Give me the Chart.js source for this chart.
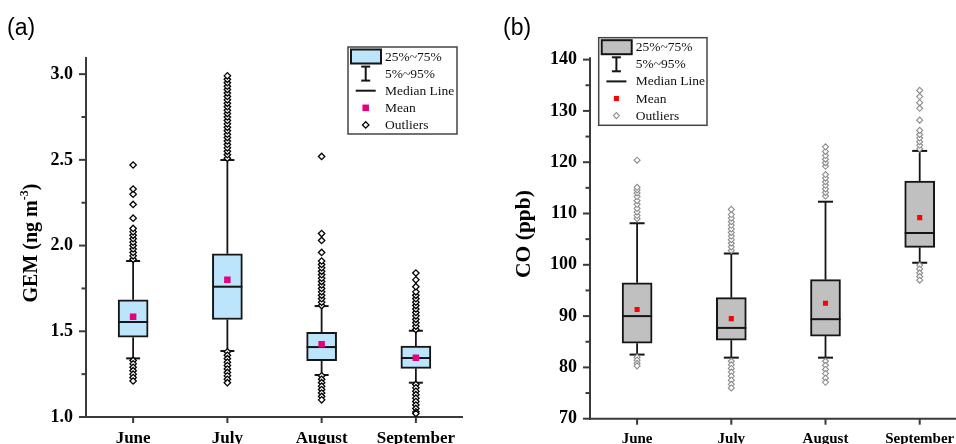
<!DOCTYPE html>
<html>
<head>
<meta charset="utf-8">
<script src="https://cdn.jsdelivr.net/npm/chart.js@4.4.1/dist/chart.umd.min.js"></script>
<style>
html, body { margin: 0; padding: 0; background: #fff; overflow: hidden; width: 956px; height: 444px; }
#gem { position: absolute; left: 0; top: 0; }
#co { position: absolute; left: 478px; top: 0; }
</style>
</head>
<body>
<canvas id="gem" width="478" height="470"></canvas>
<canvas id="co" width="500" height="470"></canvas>
<script>
var months = ['June', 'July', 'August', 'September'];
var legendLabels = ['25%~75%', '5%~95%', 'Median Line', 'Mean', 'Outliers'];

// (a) GEM, ng m-3
var gemP5 = [1.342, 1.385, 1.245, 1.200];
var gemQ1 = [1.465, 1.569, 1.328, 1.284];
var gemMedian = [1.554, 1.760, 1.408, 1.344];
var gemQ3 = [1.684, 1.952, 1.494, 1.414];
var gemP95 = [1.910, 2.499, 1.647, 1.503];
var gemMean = [1.585, 1.801, 1.424, 1.346];
var gemOutliers = [
    [1.92, 1.94, 1.96, 1.98, 2.00, 2.02, 2.04, 2.06, 2.08, 2.10, 2.16, 2.24, 2.30, 2.33, 2.47,
     1.33, 1.31, 1.29, 1.27, 1.25, 1.23, 1.21],
    [2.51, 2.53, 2.55, 2.57, 2.59, 2.61, 2.63, 2.65, 2.67, 2.69, 2.71, 2.73, 2.75, 2.77, 2.79,
     2.81, 2.83, 2.85, 2.87, 2.89, 2.91, 2.93, 2.95, 2.97, 2.99,
     1.38, 1.36, 1.34, 1.32, 1.30, 1.28, 1.26, 1.24, 1.22, 1.20],
    [1.65, 1.67, 1.69, 1.71, 1.73, 1.75, 1.77, 1.79, 1.81, 1.83, 1.85, 1.87, 1.89, 1.91,
     1.96, 2.03, 2.07, 2.52,
     1.24, 1.22, 1.20, 1.18, 1.16, 1.14, 1.12, 1.10],
    [1.51, 1.53, 1.55, 1.57, 1.59, 1.61, 1.63, 1.65, 1.67, 1.69, 1.71, 1.73, 1.76, 1.80, 1.84,
     1.19, 1.17, 1.15, 1.13, 1.11, 1.09, 1.07, 1.05, 1.03, 1.02]
];
var gemTicks = [1.0, 1.5, 2.0, 2.5, 3.0];
var gemMinor = [1.25, 1.75, 2.25, 2.75];

// (b) CO, ppb
var coP5 = [82.5, 81.9, 81.9, 100.4];
var coQ1 = [84.7, 85.3, 86.1, 103.4];
var coMedian = [90.0, 87.7, 89.4, 106.2];
var coQ3 = [96.5, 93.6, 97.1, 116.3];
var coP95 = [108.1, 102.2, 112.3, 122.2];
var coMean = [91.3, 89.5, 92.5, 109.2];
var coOutliers = [
    [109.0, 109.6, 110.3, 111.0, 111.8, 112.5, 113.3, 114.0, 114.6, 115.1, 120.4,
     82.0, 81.4, 80.8, 80.3],
    [102.8, 103.5, 104.2, 104.9, 105.6, 106.3, 107.0, 107.7, 108.4, 109.1, 109.8, 110.8,
     81.2, 80.5, 79.8, 79.1, 78.3, 77.5, 76.7, 76.0],
    [113.4, 114.1, 114.8, 115.5, 116.2, 116.9, 117.6, 119.2, 119.9, 120.6, 121.3, 122.1, 123.0,
     81.2, 80.4, 79.6, 78.8, 77.9, 77.1],
    [122.6, 123.3, 124.0, 124.7, 125.4, 126.2, 128.2, 130.5, 131.6, 132.8, 134.0,
     99.9, 99.2, 98.4, 97.7, 97.0]
];
var coTicks = [70, 80, 90, 100, 110, 120, 130, 140];
var coMinor = [75, 85, 95, 105, 115, 125, 135];

Chart.defaults.font.family = "'Liberation Serif', 'Times New Roman', serif";
Chart.defaults.color = '#000';

var AXIS = '#3a3a3a';
var INK = '#151515';

function seg(ctx, x1, y1, x2, y2) {
    ctx.beginPath();
    ctx.moveTo(x1, y1);
    ctx.lineTo(x2, y2);
    ctx.stroke();
}

function boxPlugin(c) {
    return {
        id: 'boxExtras',
        beforeDatasetsDraw: function(chart) {
            var ctx = chart.ctx, a = chart.chartArea;
            var x = chart.scales.x, y = chart.scales.y;
            ctx.save();
            ctx.strokeStyle = AXIS;
            ctx.lineWidth = 2;
            seg(ctx, a.left, a.top, a.left, a.bottom + 1);
            seg(ctx, a.left - 1, a.bottom, a.right, a.bottom);
            c.ticks.forEach(function(v) {
                var py = y.getPixelForValue(v);
                seg(ctx, a.left - 7, py, a.left, py);
            });
            c.minor.forEach(function(v) {
                var py = y.getPixelForValue(v);
                seg(ctx, a.left - 4.5, py, a.left, py);
            });
            for (var i = 0; i < months.length; i++) {
                var px = x.getPixelForValue(i);
                seg(ctx, px, a.bottom, px, a.bottom + 6);
            }
            ctx.restore();
        },
        afterDatasetDraw: function(chart, args) {
            if (args.index !== 0) return;
            var ctx = chart.ctx, y = chart.scales.y;
            var bars = chart.getDatasetMeta(0).data;
            ctx.save();
            ctx.strokeStyle = INK;
            for (var i = 0; i < bars.length; i++) {
                var cx = bars[i].x, half = bars[i].width / 2, cw = c.capWidth / 2;
                var hi = y.getPixelForValue(c.p95[i]), lo = y.getPixelForValue(c.p5[i]);
                ctx.lineWidth = 1.8;
                seg(ctx, cx, y.getPixelForValue(c.q3[i]), cx, hi);
                seg(ctx, cx, y.getPixelForValue(c.q1[i]), cx, lo);
                ctx.lineWidth = 2;
                seg(ctx, cx - cw, hi, cx + cw, hi);
                seg(ctx, cx - cw, lo, cx + cw, lo);
                var m = y.getPixelForValue(c.median[i]);
                seg(ctx, cx - half, m, cx + half, m);
            }
            ctx.restore();
        },
        afterDraw: function(chart) {
            var ctx = chart.ctx;
            ctx.save();
            // panel letter
            ctx.fillStyle = '#000';
            ctx.font = "23px 'Liberation Sans', Arial, sans-serif";
            ctx.textBaseline = 'alphabetic';
            ctx.textAlign = 'left';
            ctx.fillText(c.panel, c.panelX, 35);

            // y axis title
            ctx.save();
            ctx.translate(c.titleX, c.titleY);
            ctx.rotate(-Math.PI / 2);
            ctx.textBaseline = 'middle';
            var big = "bold " + c.titleSize + "px 'Liberation Serif', serif";
            var small = "bold " + Math.round(c.titleSize * 0.62) + "px 'Liberation Serif', serif";
            ctx.font = big;
            var w1 = ctx.measureText(c.title[0]).width;
            var w3 = ctx.measureText(c.title[2]).width;
            ctx.font = small;
            var w2 = c.title[1] ? ctx.measureText(c.title[1]).width : 0;
            var sx = -(w1 + w2 + w3) / 2;
            ctx.font = big;
            ctx.fillText(c.title[0], sx, 0);
            if (c.title[1]) {
                ctx.font = small;
                ctx.fillText(c.title[1], sx + w1, -c.titleSize * 0.35);
            }
            ctx.font = big;
            ctx.fillText(c.title[2], sx + w1 + w2, 0);
            ctx.restore();

            // legend
            var L = c.legend;
            ctx.strokeStyle = '#444';
            ctx.lineWidth = 1.5;
            ctx.strokeRect(L.x, L.y, L.w, L.h);
            var sx0 = L.x + 17.7, tx = L.x + 37;
            var rowY = function(k) { return L.y + 9.5 + k * 17.1; };
            // box
            ctx.fillStyle = c.fill;
            ctx.fillRect(L.x + 3, rowY(0) - 7, 30, 14);
            ctx.strokeStyle = INK;
            ctx.lineWidth = 2;
            ctx.strokeRect(L.x + 3, rowY(0) - 7, 30, 14);
            // whisker
            var r1 = rowY(1);
            seg(ctx, sx0, r1 - 7, sx0, r1 + 7);
            seg(ctx, sx0 - 4.5, r1 - 7, sx0 + 4.5, r1 - 7);
            seg(ctx, sx0 - 4.5, r1 + 7, sx0 + 4.5, r1 + 7);
            // median
            seg(ctx, sx0 - 10, rowY(2), sx0 + 10, rowY(2));
            // mean
            ctx.fillStyle = c.meanColor;
            var ms = c.meanRadius * Math.SQRT1_2;
            ctx.fillRect(sx0 - ms, rowY(3) - ms, ms * 2, ms * 2);
            // outlier
            var r4 = rowY(4), d = c.outRadius;
            ctx.beginPath();
            ctx.moveTo(sx0 - d, r4); ctx.lineTo(sx0, r4 - d);
            ctx.lineTo(sx0 + d, r4); ctx.lineTo(sx0, r4 + d);
            ctx.closePath();
            ctx.fillStyle = '#fff';
            ctx.fill();
            ctx.strokeStyle = c.outColor;
            ctx.lineWidth = c.outWidth;
            ctx.stroke();
            // legend text
            ctx.fillStyle = '#111';
            ctx.font = "13.5px 'Liberation Serif', serif";
            ctx.textBaseline = 'middle';
            legendLabels.forEach(function(t, k) {
                ctx.fillText(t, tx, rowY(k) + 0.5);
            });
            ctx.restore();
        }
    };
}

function makeBoxChart(id, c) {
    var outPts = [];
    c.outliers.forEach(function(list, i) {
        list.forEach(function(v) { outPts.push({ x: months[i], y: v }); });
    });
    return new Chart(document.getElementById(id), {
        type: 'bar',
        data: {
            labels: months,
            datasets: [{
                label: '25%~75%',
                data: months.map(function(m, i) { return [c.q1[i], c.q3[i]]; }),
                backgroundColor: c.fill,
                borderColor: INK,
                borderWidth: 2,
                borderSkipped: false,
                barThickness: 30,
                order: 3
            }, {
                type: 'line',
                label: 'Outliers',
                data: outPts,
                showLine: false,
                pointStyle: 'rectRot',
                pointRadius: c.outRadius,
                pointBorderWidth: c.outWidth,
                pointBorderColor: c.outColor,
                pointBackgroundColor: '#fff',
                order: 2
            }, {
                type: 'line',
                label: 'Mean',
                data: months.map(function(m, i) { return { x: m, y: c.mean[i] }; }),
                showLine: false,
                pointStyle: 'rect',
                pointRadius: c.meanRadius,
                pointBorderWidth: 0,
                pointBackgroundColor: c.meanColor,
                order: 1
            }]
        },
        options: {
            responsive: false,
            animation: false,
            events: [],
            layout: { padding: c.padding },
            plugins: { legend: { display: false }, tooltip: { enabled: false } },
            scales: {
                x: {
                    grid: { display: false, drawTicks: false },
                    border: { display: false },
                    ticks: { font: { size: c.xFont, weight: 'bold' }, padding: c.xPad, color: '#000' },
                    afterFit: function(s) { s.height = c.xHeight; }
                },
                y: {
                    min: c.min,
                    max: c.max,
                    grid: { display: false, drawTicks: false },
                    border: { display: false },
                    afterBuildTicks: function(s) {
                        s.ticks = c.ticks.map(function(v) { return { value: v }; });
                    },
                    ticks: {
                        font: { size: 18, weight: 'bold' },
                        padding: 13,
                        color: '#000',
                        callback: function(v) { return v.toFixed(c.decimals); }
                    },
                    afterFit: function(s) { s.width = c.yWidth; }
                }
            }
        },
        plugins: [boxPlugin(c)]
    });
}

makeBoxChart('gem', {
    p5: gemP5, q1: gemQ1, median: gemMedian, q3: gemQ3, p95: gemP95, mean: gemMean,
    outliers: gemOutliers, ticks: gemTicks, minor: gemMinor, decimals: 1,
    min: 1.0, max: 3.1,
    fill: '#bce4fa', meanColor: '#e6007e', outColor: '#000', outWidth: 1.3,
    meanRadius: 4.6, outRadius: 3.2, capWidth: 14,
    padding: { left: 0, right: 15, top: 57, bottom: 0 },
    yWidth: 86, xHeight: 53, xFont: 17, xPad: 11,
    panel: '(a)', panelX: 7,
    title: ['GEM (ng m', '-3', ')'], titleSize: 20, titleX: 32, titleY: 243,
    legend: { x: 348, y: 47, w: 109, h: 87 }
});

makeBoxChart('co', {
    p5: coP5, q1: coQ1, median: coMedian, q3: coQ3, p95: coP95, mean: coMean,
    outliers: coOutliers, ticks: coTicks, minor: coMinor, decimals: 0,
    min: 70, max: 140.45,
    fill: '#c0c0c0', meanColor: '#ff0000', outColor: '#8c8c8c', outWidth: 1.1,
    meanRadius: 3.6, outRadius: 3, capWidth: 15,
    padding: { left: 0, right: 11.2, top: 57.3, bottom: 0 },
    yWidth: 112, xHeight: 51.3, xFont: 15, xPad: 11,
    panel: '(b)', panelX: 25,
    title: ['CO (ppb)', '', ''], titleSize: 21.5, titleX: 46.7, titleY: 234,
    legend: { x: 120.7, y: 37.7, w: 108.3, h: 87.6 }
});
</script>
</body>
</html>
